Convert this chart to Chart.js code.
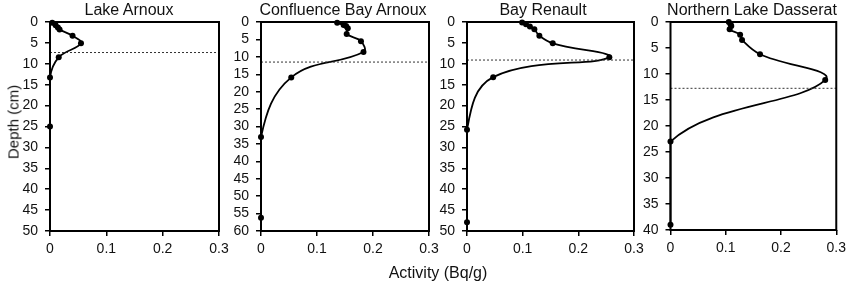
<!DOCTYPE html>
<html>
<head>
<meta charset="utf-8">
<script src="https://cdn.jsdelivr.net/npm/chart.js@4/dist/chart.umd.min.js"></script>
<style>
  html, body { margin:0; padding:0; background:#fff; }
  #wrap { position:relative; width:851px; height:285px; overflow:hidden; font-family:"Liberation Sans", Arial, sans-serif; color:#111; }
  canvas { position:absolute; left:0; top:0; }
  .ttl { position:absolute; top:0px; font-size:16px; white-space:nowrap; transform:translateX(-50%); line-height:19px; }
  #ylab { position:absolute; left:13px; top:122px; font-size:15px; white-space:nowrap; transform:translate(-50%,-50%) rotate(-90deg); }
  #xlab { position:absolute; left:438px; top:264px; font-size:16px; white-space:nowrap; transform:translateX(-50%); line-height:18px; }
</style>
</head>
<body>
<div id="wrap">
  <canvas id="c0" width="851" height="285"></canvas>
  <canvas id="c1" width="851" height="285"></canvas>
  <canvas id="c2" width="851" height="285"></canvas>
  <canvas id="c3" width="851" height="285"></canvas>
  <div class="ttl" style="left:129px">Lake Arnoux</div>
  <div class="ttl" style="left:343px">Confluence Bay Arnoux</div>
  <div class="ttl" style="left:543px">Bay Renault</div>
  <div class="ttl" style="left:752px">Northern Lake Dasserat</div>
  <div id="ylab">Depth (cm)</div>
  <div id="xlab">Activity (Bq/g)</div>
</div>
<script>
// ---- Data (activity in Bq/g, depth in cm) ----
const panelTitles = ["Lake Arnoux", "Confluence Bay Arnoux", "Bay Renault", "Northern Lake Dasserat"];

const lakeArnouxActivity = [0.004, 0.010, 0.014, 0.017, 0.040, 0.055, 0.0155, 0, 0];
const lakeArnouxDepth    = [0.2, 0.8, 1.3, 1.8, 3.3, 5.1, 8.45, 13.3, 25];

const confluenceActivity = [0.136, 0.1475, 0.152, 0.155, 0.153, 0.1785, 0.183, 0.054, 0, 0];
const confluenceDepth    = [0.2, 0.86, 1.15, 1.8, 3.45, 5.5, 8.6, 15.9, 33, 56.2];

const bayRenaultActivity = [0.099, 0.106, 0.113, 0.121, 0.130, 0.154, 0.2557, 0.047, 0, 0];
const bayRenaultDepth    = [0.1, 0.55, 1.1, 1.75, 3.3, 5.1, 8.45, 13.2, 25.8, 47.9];

const dasseratActivity = [0.1055, 0.1086, 0.110, 0.107, 0.126, 0.1295, 0.162, 0.280, 0, 0];
const dasseratDepth    = [0.0, 0.45, 0.77, 1.4, 2.44, 3.46, 6.2, 11.15, 23, 39];

const dashedDepths = [7.3, 11.5, 9.1, 12.75];
const depthMax = [50, 60, 50, 40];
const activityTicks = [0, 0.1, 0.2, 0.3];

const activities = [lakeArnouxActivity, confluenceActivity, bayRenaultActivity, dasseratActivity];
const depths = [lakeArnouxDepth, confluenceDepth, bayRenaultDepth, dasseratDepth];

// ---- Layout ----
const plotLeft   = [50, 261, 467, 670.5];
const plotRight  = [219, 429, 634, 838];
const plotBottom = [231, 231, 231, 230];
const plotTop = 22;
const W = 851, H = 285, YW = 50, XH = 30;

const boxPlugin = {
  id: 'box',
  afterDatasetsDraw(chart) {
    const a = chart.chartArea, ctx = chart.ctx;
    ctx.save();
    ctx.strokeStyle = '#000';
    ctx.lineWidth = 2;
    ctx.strokeRect(a.left, a.top, a.right - a.left, a.bottom - a.top);
    ctx.restore();
  }
};

const tickFont = { family: '"Liberation Sans", Arial, sans-serif', size: 14 };

for (let i = 0; i < 4; i++) {
  const pts = activities[i].map((v, k) => ({ x: v, y: depths[i][k] }));
  const dash = [{ x: activityTicks[0], y: dashedDepths[i] }, { x: activityTicks[activityTicks.length - 1], y: dashedDepths[i] }];
  new Chart(document.getElementById('c' + i), {
    type: 'scatter',
    data: {
      datasets: [
        { data: dash, showLine: true, borderColor: '#333', borderWidth: 1, borderDash: [2, 2], pointRadius: 0, tension: 0 },
        { data: pts, showLine: true, borderColor: '#000', borderWidth: 1.8, tension: 0.4, clip: false,
          pointRadius: 3, pointBackgroundColor: '#000', pointBorderColor: '#000', pointBorderWidth: 0 }
      ]
    },
    plugins: [boxPlugin],
    options: {
      responsive: false,
      animation: false,
      events: [],
      layout: { padding: { left: plotLeft[i] - YW, right: W - plotRight[i], top: plotTop, bottom: H - plotBottom[i] - XH } },
      plugins: { legend: { display: false }, tooltip: { enabled: false }, title: { display: false } },
      scales: {
        x: {
          type: 'linear', min: 0, max: 0.3,
          afterFit(s) { s.height = XH; },
          border: { display: false },
          grid: { drawOnChartArea: false, drawTicks: true, tickLength: 5, color: '#000', lineWidth: 1.5 },
          ticks: { stepSize: 0.1, padding: 5, color: '#111', font: tickFont, maxRotation: 0, autoSkip: false,
                   callback: (v) => String(Math.round(v * 10) / 10) }
        },
        y: {
          type: 'linear', reverse: true, min: 0, max: depthMax[i],
          afterFit(s) { s.width = YW; },
          border: { display: false },
          grid: { drawOnChartArea: false, drawTicks: true, tickLength: 5, color: '#000', lineWidth: 1.5 },
          ticks: { stepSize: 5, padding: 7, color: '#111', font: tickFont, autoSkip: false }
        }
      }
    }
  });
}
</script>
</body>
</html>
